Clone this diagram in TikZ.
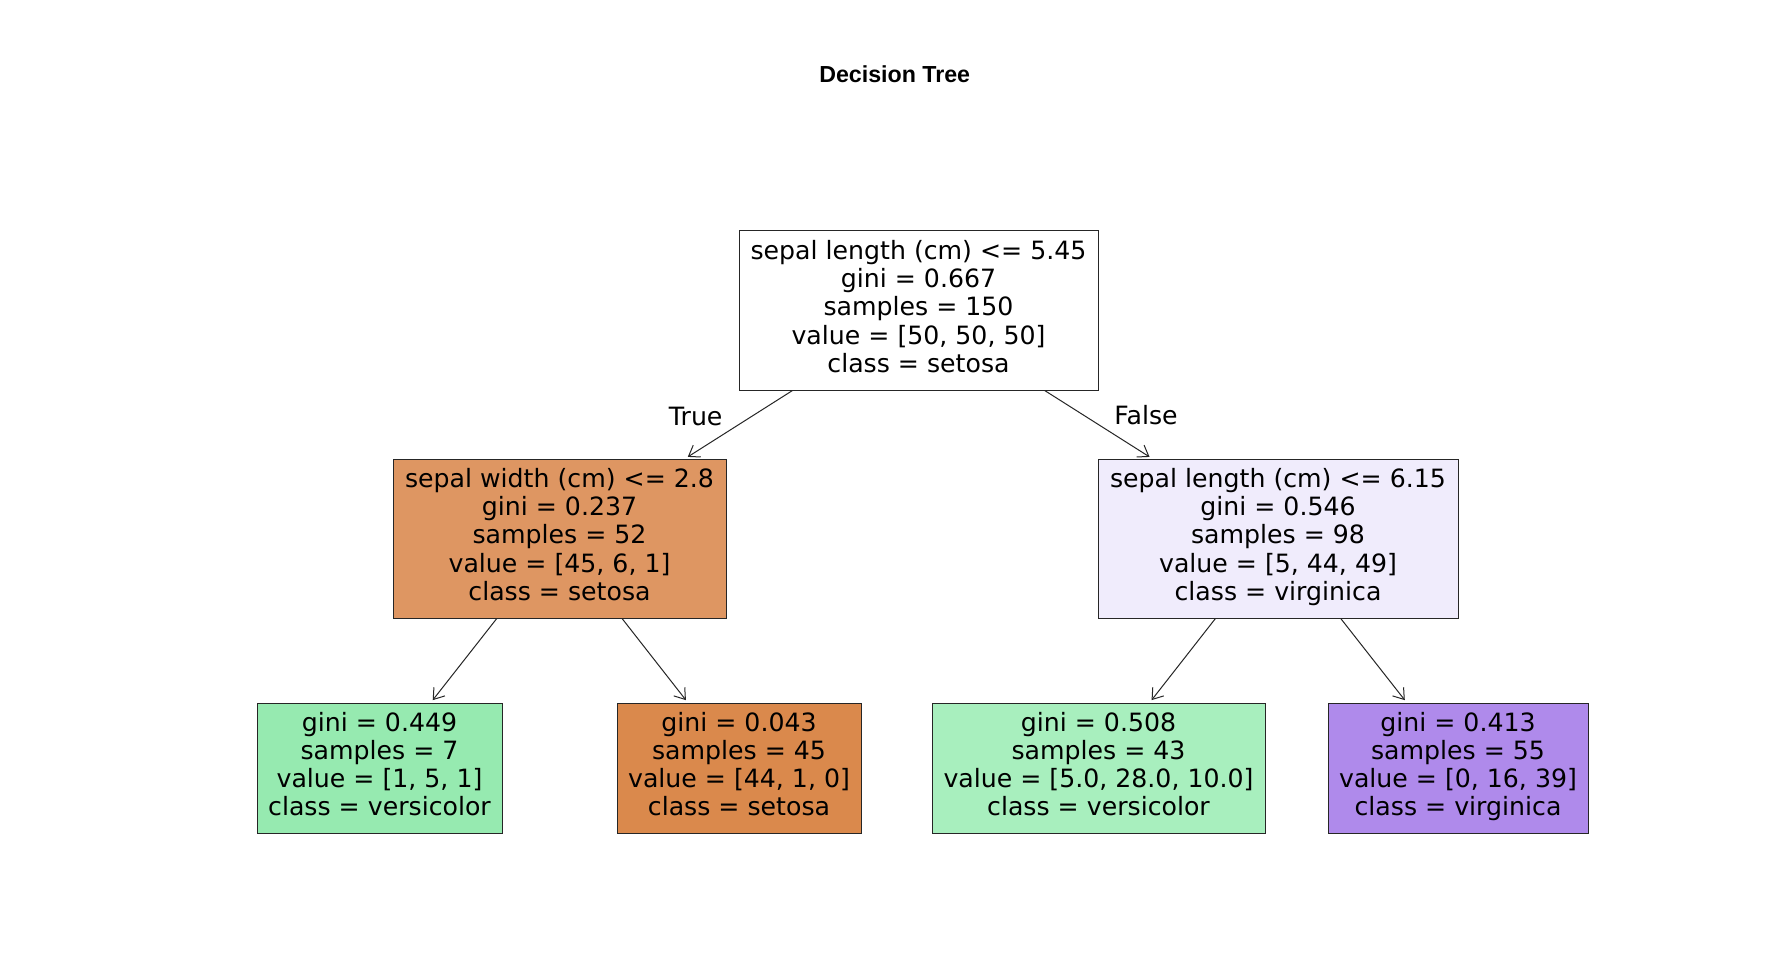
\documentclass[tikz,border=0pt]{standalone}
\usepackage{fontspec}
\setmainfont{DejaVu Sans}
\newfontfamily\titlefont{Liberation Sans}
\usetikzlibrary{arrows.meta}
\definecolor{cRoot}{RGB}{255,255,255}
\definecolor{cL}{RGB}{222,150,98}
\definecolor{cR}{RGB}{240,236,252}
\definecolor{cLa}{RGB}{150,234,176}
\definecolor{cLb}{RGB}{218,137,76}
\definecolor{cRa}{RGB}{168,239,190}
\definecolor{cRb}{RGB}{175,138,235}
\begin{document}
\begin{tikzpicture}[x=0.5pt,y=-0.5pt,
  treebox/.style={draw=black!85, line width=0.5pt, inner sep=0pt, align=center,
    font=\fontsize{12.6pt}{14.08pt}\selectfont, execute at end node=\strut},
  inner/.style={treebox, minimum height=79.5pt, execute at begin node={\rule{0pt}{12.5pt}}},
  leaf/.style={treebox, minimum height=65pt, execute at begin node={\rule{0pt}{11.8pt}}},
  edge/.style={-{Straight Barb[length=5pt,width=7pt]}, line width=0.5pt, black!85, shorten >=1.5pt},
  lbl/.style={anchor=base, inner sep=0pt, font=\fontsize{12.6pt}{14.08pt}\selectfont}]
\useasboundingbox (0,0) rectangle (1789,957);
\fill[white] (0,0) rectangle (1789,957);
\node[anchor=base, inner sep=0pt, font=\titlefont\bfseries\fontsize{11.6pt}{14pt}\selectfont] (title) at (894.7,82.3) {Decision Tree};
\node[inner, fill=cRoot, minimum width=179.5pt] (root) at (918.5,310.5)
  {sepal length (cm) <= 5.45\\gini = 0.667\\samples = 150\\value = [50, 50, 50]\\class = setosa};
\node[inner, fill=cL, minimum width=166.5pt] (l) at (559.5,538.5)
  {sepal width (cm) <= 2.8\\gini = 0.237\\samples = 52\\value = [45, 6, 1]\\class = setosa};
\node[inner, fill=cR, minimum width=180pt] (r) at (1278,538.5)
  {sepal length (cm) <= 6.15\\gini = 0.546\\samples = 98\\value = [5, 44, 49]\\class = virginica};
\node[leaf, fill=cLa, minimum width=122.5pt] (la) at (379.5,768)
  {gini = 0.449\\samples = 7\\value = [1, 5, 1]\\class = versicolor};
\node[leaf, fill=cLb, minimum width=122pt] (lb) at (739,768)
  {gini = 0.043\\samples = 45\\value = [44, 1, 0]\\class = setosa};
\node[leaf, fill=cRa, minimum width=166.5pt] (ra) at (1098.5,768)
  {gini = 0.508\\samples = 43\\value = [5.0, 28.0, 10.0]\\class = versicolor};
\node[leaf, fill=cRb, minimum width=130pt] (rb) at (1458,768)
  {gini = 0.413\\samples = 55\\value = [0, 16, 39]\\class = virginica};
\draw[edge] (root) -- (l);
\draw[edge] (root) -- (r);
\draw[edge] (l) -- (la);
\draw[edge] (l) -- (lb);
\draw[edge] (r) -- (ra);
\draw[edge] (r) -- (rb);
\node[lbl] (ltrue) at (695.7,425) {True};
\node[lbl] (lfalse) at (1146,424) {False};
\end{tikzpicture}
\end{document}
